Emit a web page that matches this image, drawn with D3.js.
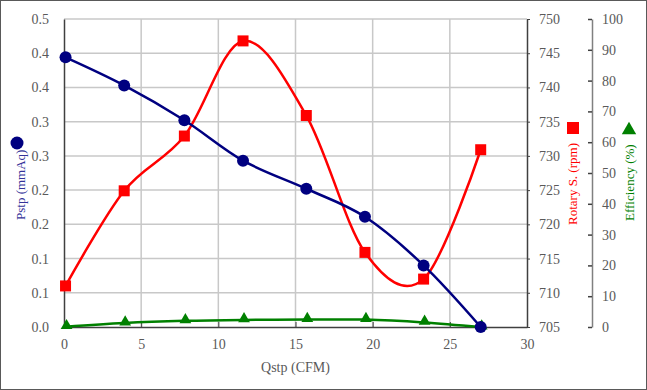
<!DOCTYPE html>
<html>
<head>
<meta charset="utf-8">
<script src="https://cdn.jsdelivr.net/npm/d3@7"></script>
<style>
  body { margin: 0; background: #fff; }
  svg { display: block; }
</style>
</head>
<body>
<script>
//Data
var qstp = [0.1, 3.9, 7.8, 11.6, 15.7, 19.5, 23.3, 27.0];
var pstp = [0.394, 0.353, 0.302, 0.243, 0.202, 0.161, 0.090, 0.0];
var rotary = [711.0, 724.9, 732.9, 746.8, 735.9, 715.9, 712.0, 730.9];
var efficiency = [0.1, 1.3, 2.0, 2.3, 2.4, 2.4, 1.5, 0.0];

var xTicks = [0, 5, 10, 15, 20, 25, 30];
var pTicks = [0, 0.05, 0.1, 0.15, 0.2, 0.25, 0.3, 0.35, 0.4, 0.45];
var pTickLabels = ["0.0", "0.1", "0.1", "0.2", "0.2", "0.3", "0.3", "0.4", "0.4", "0.5"];
var rTicks = [705, 710, 715, 720, 725, 730, 735, 740, 745, 750];
var eTicks = [0, 10, 20, 30, 40, 50, 60, 70, 80, 90, 100];

var FONT = "'Liberation Serif', 'Times New Roman', 'DejaVu Serif', serif";

//Define Margin
var W = 647, H = 390;
var plot = {left: 64, right: 527, top: 19, bottom: 327};

//Define SVG
var svg = d3.select("body")
    .append("svg")
    .attr("width", W)
    .attr("height", H)
    .attr("font-family", FONT);

//Chart border
svg.append("rect")
    .attr("x", 0.5).attr("y", 0.5)
    .attr("width", W - 1).attr("height", H - 1)
    .attr("fill", "#fff")
    .attr("stroke", "#595959");

//Define Scales
var xScale = d3.scaleLinear().domain([0, 30]).range([plot.left, plot.right]);
var yP = d3.scaleLinear().domain([0, 0.45]).range([plot.bottom, plot.top]);
var yR = d3.scaleLinear().domain([705, 750]).range([plot.bottom, plot.top]);
var yE = d3.scaleLinear().domain([0, 100]).range([plot.bottom, plot.top]);

//Gridlines
svg.append("g").selectAll("line")
    .data(rTicks.slice(1))
    .enter().append("line")
    .attr("x1", plot.left).attr("x2", plot.right)
    .attr("y1", function(d) { return yR(d); })
    .attr("y2", function(d) { return yR(d); })
    .attr("stroke", "#c8c8c8")
    .attr("stroke-width", 1.5);

svg.append("g").selectAll("line")
    .data(xTicks.slice(1, -1))
    .enter().append("line")
    .attr("x1", function(d) { return xScale(d); })
    .attr("x2", function(d) { return xScale(d); })
    .attr("y1", plot.top).attr("y2", plot.bottom)
    .attr("stroke", "#c8c8c8")
    .attr("stroke-width", 1.5);

//Axis styling helper
function styleAxis(g) {
    g.attr("font-family", FONT).attr("font-size", 14);
    g.selectAll(".tick text").attr("fill", "#595959");
}

//X-axis
var xAxis = d3.axisBottom(xScale).tickValues(xTicks).tickSizeInner(-5).tickSizeOuter(0).tickPadding(12);
var gX = svg.append("g")
    .attr("transform", "translate(0," + plot.bottom + ")")
    .call(xAxis)
    .call(styleAxis);
gX.select(".domain").attr("stroke", "#404040").attr("stroke-width", 1.5);
gX.selectAll(".tick line").attr("stroke", "#404040");

//Left axis (Pstp)
var yAxisP = d3.axisLeft(yP).tickValues(pTicks).tickSize(0).tickPadding(15)
    .tickFormat(function(d, i) { return pTickLabels[i]; });
var gP = svg.append("g")
    .attr("transform", "translate(" + plot.left + ",0)")
    .call(yAxisP)
    .call(styleAxis);
gP.select(".domain").attr("stroke", "#404040").attr("stroke-width", 1.5);

//Right axis (Rotary S.)
var yAxisR = d3.axisRight(yR).tickValues(rTicks).tickSizeInner(3).tickSizeOuter(0).tickPadding(9);
var gR = svg.append("g")
    .attr("transform", "translate(" + plot.right + ",0)")
    .call(yAxisR)
    .call(styleAxis);
gR.select(".domain").attr("stroke", "#404040").attr("stroke-width", 1.5);
gR.selectAll(".tick line").attr("stroke", "#404040");

//Far right axis (Efficiency)
var yAxisE = d3.axisRight(yE).tickValues(eTicks).tickSizeInner(-4).tickSizeOuter(0).tickPadding(10);
var gE = svg.append("g")
    .attr("transform", "translate(592,0)")
    .call(yAxisE)
    .call(styleAxis);
gE.select(".domain").attr("stroke", "#808080").attr("stroke-width", 1.5);
gE.selectAll(".tick line").attr("stroke", "#404040").attr("stroke-width", 1.5);

//Lines
var curve = d3.curveCatmullRom.alpha(0);
function drawSeries(values, yScale, color) {
    var line = d3.line()
        .x(function(d, i) { return xScale(qstp[i]); })
        .y(function(d) { return yScale(d); })
        .curve(curve);
    svg.append("path")
        .datum(values)
        .attr("d", line)
        .attr("fill", "none")
        .attr("stroke", color)
        .attr("stroke-width", 2.5);
}
drawSeries(efficiency, yE, "#008000");
drawSeries(rotary, yR, "#ff0000");
drawSeries(pstp, yP, "#000080");

//Markers
svg.append("g").selectAll("path")
    .data(efficiency)
    .enter().append("path")
    .attr("d", d3.symbol().type(d3.symbolTriangle).size(60))
    .attr("transform", function(d, i) { return "translate(" + (xScale(qstp[i]) + 1) + "," + (yE(d) - 1) + ")"; })
    .attr("fill", "#008000");

svg.append("g").selectAll("rect")
    .data(rotary)
    .enter().append("rect")
    .attr("x", function(d, i) { return xScale(qstp[i]) - 5.5; })
    .attr("y", function(d) { return yR(d) - 5.5; })
    .attr("width", 11).attr("height", 11)
    .attr("fill", "#ff0000");

svg.append("g").selectAll("circle")
    .data(pstp)
    .enter().append("circle")
    .attr("cx", function(d, i) { return xScale(qstp[i]); })
    .attr("cy", function(d) { return yP(d); })
    .attr("r", 6)
    .attr("fill", "#000080");

//Axis titles
svg.append("text")
    .attr("x", xScale(15)).attr("y", 372)
    .attr("text-anchor", "middle")
    .attr("font-size", "14px")
    .attr("fill", "#595959")
    .text("Qstp (CFM)");

svg.append("text")
    .attr("transform", "translate(25,220) rotate(-90)")
    .attr("text-anchor", "start")
    .attr("font-size", "13px")
    .attr("fill", "#333399")
    .text("Pstp (mmAq)");
svg.append("circle")
    .attr("cx", 17).attr("cy", 143).attr("r", 6.5)
    .attr("fill", "#000080");

svg.append("text")
    .attr("transform", "translate(577,225) rotate(-90)")
    .attr("text-anchor", "start")
    .attr("font-size", "13px")
    .attr("fill", "#ff0000")
    .text("Rotary S. (rpm)");
svg.append("rect")
    .attr("x", 567).attr("y", 122)
    .attr("width", 12).attr("height", 12)
    .attr("fill", "#ff0000");

svg.append("text")
    .attr("transform", "translate(634,221) rotate(-90)")
    .attr("text-anchor", "start")
    .attr("font-size", "13px")
    .attr("fill", "#008000")
    .text("Efficiency (%)");
svg.append("path")
    .attr("d", d3.symbol().type(d3.symbolTriangle).size(90))
    .attr("transform", "translate(629,130)")
    .attr("fill", "#008000");
</script>
</body>
</html>
